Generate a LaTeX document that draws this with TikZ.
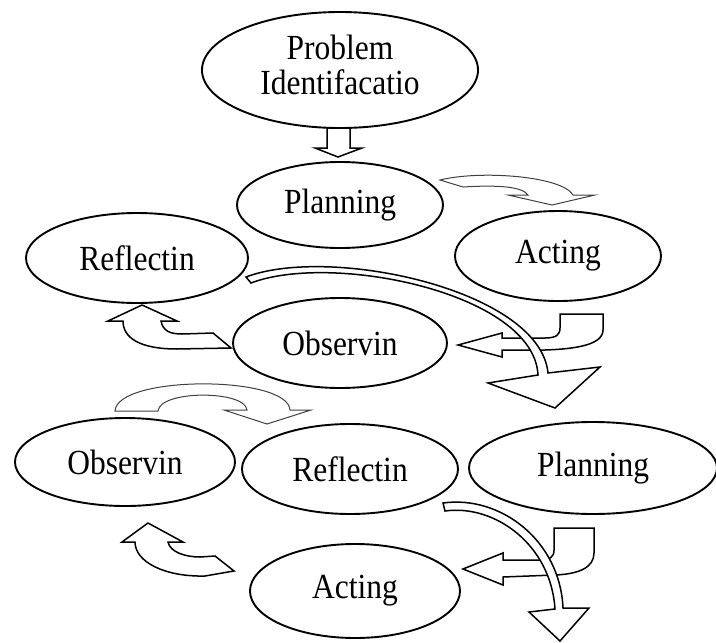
\documentclass[tikz,border=0pt]{standalone}
\usepackage{fontspec}
\setmainfont{Liberation Serif}
\usetikzlibrary{shapes.geometric}
\newcommand{\stretchtxt}[1]{\scalebox{1}[1.12]{#1}}
\begin{document}
\begin{tikzpicture}[x=1pt,y=-1pt,
  bub/.style={ellipse, draw, line width=1.9pt, inner sep=0pt, fill=white,
              font=\fontsize{31.5}{36}\selectfont},
  blk/.style={draw, fill=white, line width=1.5pt, line join=miter},
  gblk/.style={draw=black!75, fill=white, line width=1pt, line join=miter}]
\useasboundingbox (0,0) rectangle (716,643);

% ---- block arrows (drawn first, ellipses on top) ----
% Problem -> Planning
\path[blk] (327,120) -- (350,120) -- (350,148) -- (362,148) -- (338,157)
  -- (315,148) -- (327,148) -- cycle;
% Planning -> Acting (grey curved)
\path[gblk] (440,180) .. controls (480,170) and (562,176) .. (573,195)
  -- (595,195) -- (552,205) -- (508,195) -- (528,195)
  .. controls (522,186) and (495,185) .. (463,187) -- cycle;
% Acting -> Observin (bent)
\path[blk] (560,314) -- (603,314) -- (603,330)
  .. controls (603,345) and (575,349) .. (545,350) -- (502,350)
  -- (502,357) -- (458,345) -- (502,333) -- (502,338) -- (545,338)
  .. controls (556,338) and (560,335) .. (560,328) -- cycle;
% Observin -> Reflectin (left curved)
\path[blk] (142,305) -- (177,321) -- (161,321)
  .. controls (163,331) and (170,334) .. (182,334) -- (213,333)
  -- (231,348) -- (177,349)
  .. controls (140,349) and (123,338) .. (123,321) -- (108,321) -- cycle;
% Reflectin -> Planning (long curved)
\path[blk] (246,277) .. controls (330,245) and (540,290) .. (548,373)
  -- (600,367) -- (555,408) -- (488,383) -- (538,375)
  .. controls (534,293) and (332,252) .. (251,283) -- cycle;
% Observin -> Reflectin (grey arc)
\path[gblk] (115,411) .. controls (117,375) and (288,375) .. (290,410)
  -- (311,410) -- (267,424) -- (224,410) -- (247,410)
  .. controls (245,390) and (160,390) .. (158,411) -- cycle;
% Planning -> Acting (bent, bottom)
\path[blk] (554,528) -- (594,528) -- (594,553)
  .. controls (594,567) and (580,574) .. (555,575) -- (503,577)
  -- (503,585) -- (463,569) -- (503,553) -- (503,560) -- (540,560)
  .. controls (550,560) and (554,557) .. (554,550) -- cycle;
% Acting -> Observin (left curved, bottom)
\path[blk] (148,523) -- (183,542) -- (168,542)
  .. controls (170,552) and (185,557) .. (200,557) -- (215,556)
  -- (234,571) -- (205,576)
  .. controls (165,577) and (135,562) .. (135,542) -- (122,542) -- cycle;
% Reflectin -> down (long curved, bottom)
\path[blk] (443,503) .. controls (500,495) and (560,540) .. (563,608)
  -- (589,608) -- (560,641) -- (529,612) -- (555,609)
  .. controls (551,545) and (495,504) .. (445,511) -- cycle;

% ---- ellipses ----
\node[bub, minimum width=276pt, minimum height=116pt] (prob) at (340,70)
  {\stretchtxt{\fontsize{31.5}{31.5}\selectfont\begin{tabular}{@{}c@{}}Problem\\Identifacatio\end{tabular}}};
\node[bub, minimum width=206pt, minimum height=86pt] (plan1) at (340,205) {\stretchtxt{Planning}};
\node[bub, minimum width=222pt, minimum height=90pt] (refl1) at (137,258) {\stretchtxt{Reflectin}};
\node[bub, minimum width=206pt, minimum height=90pt] (act1) at (558,256) {\stretchtxt{Acting}};
\node[bub, minimum width=214pt, minimum height=90pt] (obs1) at (340,343) {\stretchtxt{Observin}};
\node[bub, minimum width=220pt, minimum height=88pt] (obs2) at (125,462) {\stretchtxt{Observin}};
\node[bub, minimum width=216pt, minimum height=90pt] (refl2) at (350,469) {\stretchtxt{Reflectin}};
\node[bub, minimum width=248pt, minimum height=92pt] (plan2) at (593,468) {\stretchtxt{Planning}};
\node[bub, minimum width=210pt, minimum height=94pt] (act2) at (355,591) {\stretchtxt{Acting}};
\end{tikzpicture}
\end{document}
